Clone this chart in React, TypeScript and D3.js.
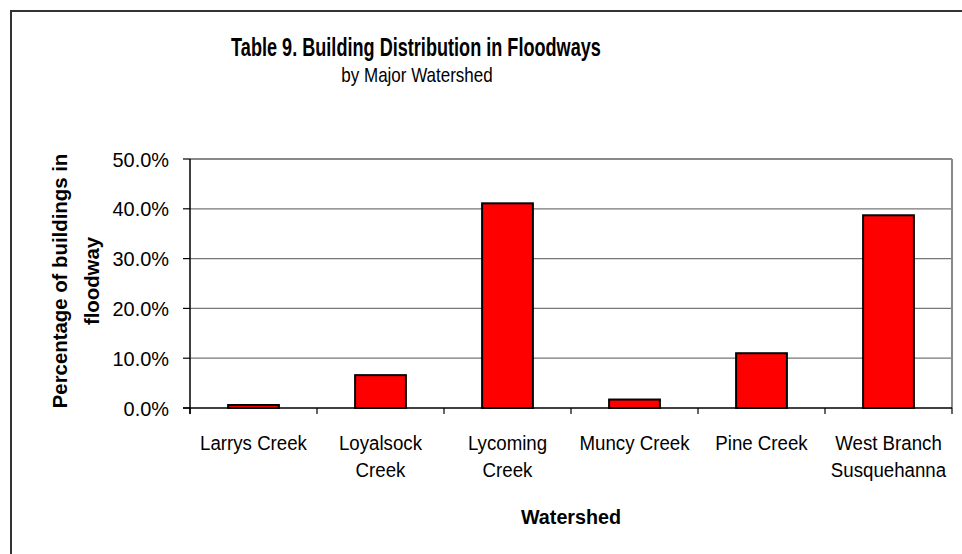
import * as d3 from "d3";
import { useEffect, useRef } from "react";

const categories = [
  ["Larrys Creek"],
  ["Loyalsock", "Creek"],
  ["Lycoming", "Creek"],
  ["Muncy Creek"],
  ["Pine Creek"],
  ["West Branch", "Susquehanna"],
];
const values = [0.006, 0.066, 0.411, 0.017, 0.110, 0.387];
const yTicks = [0, 0.1, 0.2, 0.3, 0.4, 0.5];

const FONT = "'Liberation Sans', Arial, sans-serif";

type Sel = d3.Selection<SVGGElement, unknown, null, undefined>;

// the original uses a condensed face; squeeze Liberation Sans horizontally
function label(parent: Sel, x: number, y: number, txt: string, size: number, sx: number,
  opts: { bold?: boolean; anchor?: string } = {}) {
  parent.append("g")
    .attr("transform", `translate(${x},${y}) scale(${sx},1)`)
    .append("text")
    .attr("text-anchor", opts.anchor ?? "middle")
    .attr("font-size", size)
    .attr("font-weight", opts.bold ? "bold" : "normal")
    .attr("fill", "#000")
    .text(txt);
}

export default function App() {
  const svgRef = useRef<SVGSVGElement | null>(null);

  useEffect(() => {
    if (!svgRef.current) return;
    const root = d3.select(svgRef.current);
    root.selectAll("*").remove();

    const width = 962;
    const height = 554;
    const left = 190, right = 952, top = 159, bottom = 408;

    root.attr("width", width).attr("height", height).style("font-family", FONT);
    const svg = root.append("g") as unknown as Sel;

    // outer chart frame (runs off the right and bottom edges)
    svg.append("path")
      .attr("d", `M11,${height + 5} V11 H${width + 5}`)
      .attr("fill", "none")
      .attr("stroke", "#333")
      .attr("stroke-width", 2);

    const x = d3.scaleBand<number>()
      .domain(d3.range(categories.length))
      .range([left, right])
      .paddingInner(0.6)
      .paddingOuter(0.3);

    const y = d3.scaleLinear().domain([0, 0.5]).range([bottom, top]);

    // gridlines
    svg.append("g")
      .selectAll("line")
      .data(yTicks.slice(1))
      .join("line")
      .attr("x1", left)
      .attr("x2", right)
      .attr("y1", (d) => y(d))
      .attr("y2", (d) => y(d))
      .attr("stroke", (d) => (d === 0.5 ? "#888" : "#777"))
      .attr("stroke-width", (d) => (d === 0.5 ? 2 : 1.2));

    // right border of plot area
    svg.append("line")
      .attr("x1", right).attr("x2", right)
      .attr("y1", top).attr("y2", bottom)
      .attr("stroke", "#888")
      .attr("stroke-width", 2);

    // bars
    svg.append("g")
      .selectAll("rect")
      .data(values)
      .join("rect")
      .attr("x", (_, i) => x(i)!)
      .attr("width", x.bandwidth())
      .attr("y", (d) => y(d))
      .attr("height", (d) => bottom - y(d))
      .attr("fill", "#ff0000")
      .attr("stroke", "#000")
      .attr("stroke-width", 2);

    // y axis
    const yAxis = svg.append("g");
    yAxis.append("line")
      .attr("x1", left).attr("x2", left)
      .attr("y1", top).attr("y2", bottom + 6)
      .attr("stroke", "#000").attr("stroke-width", 1.5);
    yAxis.selectAll("line.tk")
      .data(yTicks)
      .join("line")
      .attr("class", "tk")
      .attr("x1", left - 7).attr("x2", left)
      .attr("y1", (d) => y(d)).attr("y2", (d) => y(d))
      .attr("stroke", "#000").attr("stroke-width", 1.2);
    const fmt = d3.format(".1%");
    yTicks.forEach((t) => label(yAxis, 169, y(t) + 7.5, fmt(t), 21, 0.95, { anchor: "end" }));

    // x axis
    const xAxis = svg.append("g");
    xAxis.append("line")
      .attr("x1", left - 7).attr("x2", right)
      .attr("y1", bottom).attr("y2", bottom)
      .attr("stroke", "#000").attr("stroke-width", 1.5);
    const bounds = d3.range(categories.length + 1).map((i) => left + i * x.step());
    xAxis.selectAll("line.tk")
      .data(bounds)
      .join("line")
      .attr("class", "tk")
      .attr("x1", (d) => d).attr("x2", (d) => d)
      .attr("y1", bottom).attr("y2", bottom + 6)
      .attr("stroke", "#000").attr("stroke-width", 1.2);

    categories.forEach((lines, i) => {
      lines.forEach((ln, j) => {
        label(xAxis, x(i)! + x.bandwidth() / 2, bottom + 42 + j * 27, ln, 21, 0.89);
      });
    });

    // titles
    label(svg, 416, 56, "Table 9. Building Distribution in Floodways", 25.5, 0.71, { bold: true });
    label(svg, 417, 82, "by Major Watershed", 20, 0.85);
    label(svg, (left + right) / 2, 524, "Watershed", 21, 0.94, { bold: true });

    const yTitle = svg.append("text")
      .attr("transform", `translate(0,281) rotate(-90) scale(0.97,1)`)
      .attr("text-anchor", "middle")
      .attr("font-size", 21)
      .attr("font-weight", "bold")
      .attr("fill", "#000");
    yTitle.append("tspan").attr("x", 0).attr("y", 67).text("Percentage of buildings in");
    yTitle.append("tspan").attr("x", 0).attr("y", 99).text("floodway");
  }, []);

  return <svg ref={svgRef} style={{ position: "absolute", left: 0, top: 0 }} />;
}
